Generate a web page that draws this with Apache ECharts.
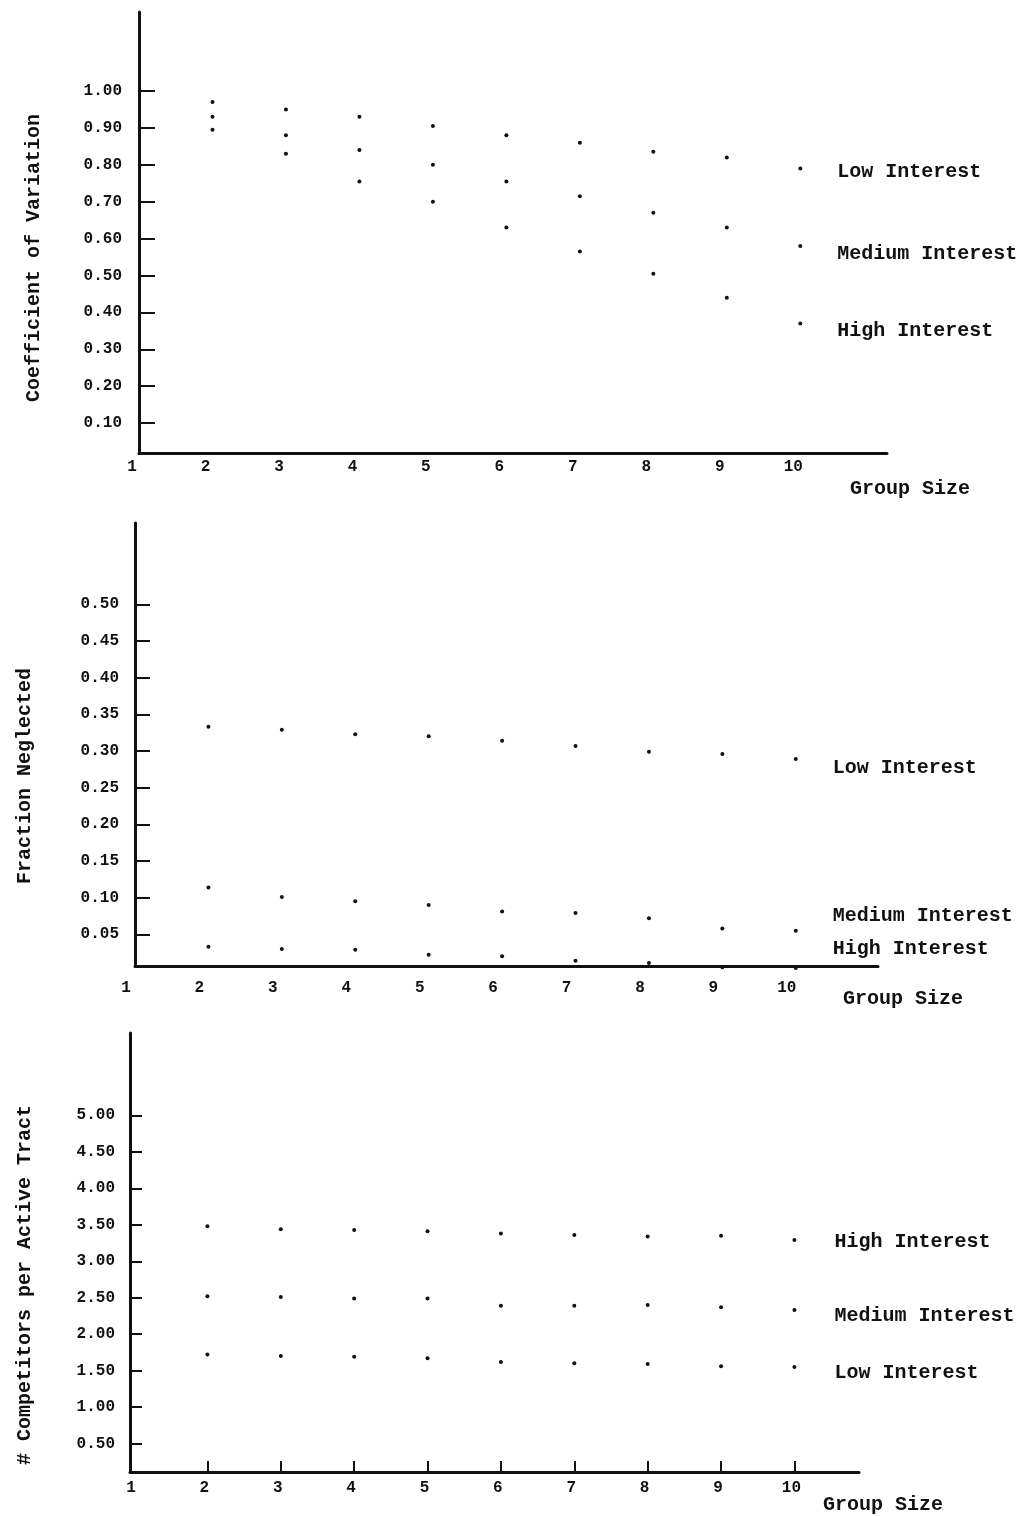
<!DOCTYPE html>
<html>
<head>
<meta charset="utf-8">
<script src="https://cdn.jsdelivr.net/npm/echarts@6/dist/echarts.min.js"></script>
<style>
html,body{margin:0;padding:0;background:#fff;}
#chart{width:1027px;height:1516px;}
</style>
</head>
<body>
<div id="chart"></div>
<script>
// ---- data ----
const groupSizes = [2, 3, 4, 5, 6, 7, 8, 9, 10];
const xTickValues = [1, 2, 3, 4, 5, 6, 7, 8, 9, 10];

// Panel 1: Coefficient of Variation
const cvLow    = [0.97, 0.95, 0.93, 0.905, 0.88, 0.86, 0.835, 0.82, 0.79];
const cvMedium = [0.93, 0.88, 0.84, 0.80, 0.755, 0.715, 0.67, 0.63, 0.58];
const cvHigh   = [0.895, 0.83, 0.755, 0.70, 0.63, 0.565, 0.505, 0.44, 0.37];
const cvTicks  = [0.10, 0.20, 0.30, 0.40, 0.50, 0.60, 0.70, 0.80, 0.90, 1.00];

// Panel 2: Fraction Neglected
const fnLow    = [0.333, 0.329, 0.323, 0.320, 0.314, 0.307, 0.299, 0.296, 0.289];
const fnMedium = [0.114, 0.101, 0.095, 0.090, 0.081, 0.079, 0.072, 0.058, 0.055];
const fnHigh   = [0.033, 0.030, 0.029, 0.022, 0.020, 0.014, 0.011, 0.005, 0.004];
const fnTicks  = [0.05, 0.10, 0.15, 0.20, 0.25, 0.30, 0.35, 0.40, 0.45, 0.50];

// Panel 3: # Competitors per Active Tract
const cpHigh   = [3.48, 3.44, 3.43, 3.41, 3.38, 3.36, 3.34, 3.35, 3.29];
const cpMedium = [2.52, 2.51, 2.49, 2.49, 2.39, 2.39, 2.40, 2.37, 2.33];
const cpLow    = [1.72, 1.70, 1.69, 1.67, 1.62, 1.60, 1.59, 1.56, 1.55];
const cpTicks  = [0.50, 1.00, 1.50, 2.00, 2.50, 3.00, 3.50, 4.00, 4.50, 5.00];

const yTitles = ['Coefficient of Variation', 'Fraction Neglected', '# Competitors per Active Tract'];
const xTitle = 'Group Size';

// ---- styling ----
const FONT = '"Liberation Mono", "DejaVu Sans Mono", monospace';
const INK = '#111111';

const panels = [
  { grid: {left: 139, right: 140, top: 12, bottom: 1063},
    x: {min: 1, max: 11.18, labelShift: 7, labelMargin: 6, ticks: false},
    y: {min: 0.019, max: 1.214, ticks: cvTicks, margin: 17, tickLen: 16},
    title: {x: 34, y: 258},
    xname: {x: 850, y: 489},
    series: [
      {name: 'Low Interest', vals: cvLow, dist: 35, dy: 3},
      {name: 'Medium Interest', vals: cvMedium, dist: 35, dy: 8},
      {name: 'High Interest', vals: cvHigh, dist: 35, dy: 8}
    ]},
  { grid: {left: 135, right: 149, top: 523, bottom: 550},
    x: {min: 1, max: 11.12, labelShift: 9, labelMargin: 14, ticks: false},
    y: {min: 0.0068, max: 0.611, ticks: fnTicks, margin: 16, tickLen: 15},
    title: {x: 25, y: 776},
    xname: {x: 843, y: 999},
    series: [
      {name: 'Low Interest', vals: fnLow, dist: 35, dy: 9},
      {name: 'Medium Interest', vals: fnMedium, dist: 35, dy: -15},
      {name: 'High Interest', vals: fnHigh, dist: 35, dy: -19}
    ]},
  { grid: {left: 130, right: 168, top: 1033, bottom: 44},
    x: {min: 0.945, max: 10.88, labelShift: 3, labelMargin: 8, ticks: true},
    y: {min: 0.11, max: 6.13, ticks: cpTicks, margin: 15, tickLen: 12},
    title: {x: 25, y: 1285},
    xname: {x: 823, y: 1505},
    series: [
      {name: 'High Interest', vals: cpHigh, dist: 38, dy: 2},
      {name: 'Medium Interest', vals: cpMedium, dist: 38, dy: 6},
      {name: 'Low Interest', vals: cpLow, dist: 38, dy: 6}
    ]}
];

const grids = [], xAxes = [], yAxes = [], series = [], graphics = [];

panels.forEach((p, k) => {
  grids.push(Object.assign({outerBoundsMode: 'none', containLabel: false}, p.grid));
  xAxes.push({
    type: 'value', gridIndex: k, min: p.x.min, max: p.x.max,
    axisLine: {show: true, lineStyle: {color: INK, width: 3}},
    axisTick: p.x.ticks
      ? {show: true, inside: true, length: 11, customValues: groupSizes, lineStyle: {color: INK, width: 2}}
      : {show: false},
    axisLabel: {show: true, customValues: xTickValues, margin: p.x.labelMargin,
                fontFamily: FONT, fontSize: 16, fontWeight: 'bold', color: INK,
                padding: [0, p.x.labelShift * 2, 0, 0],
                formatter: v => String(Math.round(v))},
    splitLine: {show: false}
  });
  yAxes.push({
    type: 'value', gridIndex: k, min: p.y.min, max: p.y.max,
    axisLine: {show: true, lineStyle: {color: INK, width: 3}},
    axisTick: {show: true, inside: true, length: p.y.tickLen, customValues: p.y.ticks,
               lineStyle: {color: INK, width: 2}},
    axisLabel: {show: true, customValues: p.y.ticks, margin: p.y.margin,
                fontFamily: FONT, fontSize: 16, fontWeight: 'bold', color: INK,
                formatter: v => v.toFixed(2)},
    splitLine: {show: false}
  });
  p.series.forEach(s => {
    const last = s.vals.length - 1;
    series.push({
      type: 'scatter', name: s.name, xAxisIndex: k, yAxisIndex: k,
      symbol: 'circle', symbolSize: 4, clip: false,
      itemStyle: {color: INK, opacity: 1},
      data: groupSizes.map((g, i) => [g, s.vals[i]]),
      label: {
        show: true, position: 'right', distance: s.dist, offset: [0, s.dy],
        fontFamily: FONT, fontSize: 20, fontWeight: 700, color: INK,
        opacity: 1, textBorderWidth: 0,
        formatter: prm => prm.dataIndex === last ? s.name : ''
      },
      emphasis: {disabled: true}
    });
  });
  graphics.push({
    type: 'text', x: p.title.x, y: p.title.y, rotation: Math.PI / 2,
    style: {text: yTitles[k], font: 'bold 20px ' + FONT, fill: INK,
            textAlign: 'center', textVerticalAlign: 'middle'}
  });
  graphics.push({
    type: 'text', x: p.xname.x, y: p.xname.y,
    style: {text: xTitle, font: 'bold 20px ' + FONT, fill: INK,
            textAlign: 'left', textVerticalAlign: 'middle'}
  });
});

const chart = echarts.init(document.getElementById('chart'), null, {renderer: 'canvas'});
chart.setOption({
  backgroundColor: '#ffffff',
  animation: false,
  grid: grids,
  xAxis: xAxes,
  yAxis: yAxes,
  series: series,
  graphic: graphics
});
</script>
</body>
</html>
